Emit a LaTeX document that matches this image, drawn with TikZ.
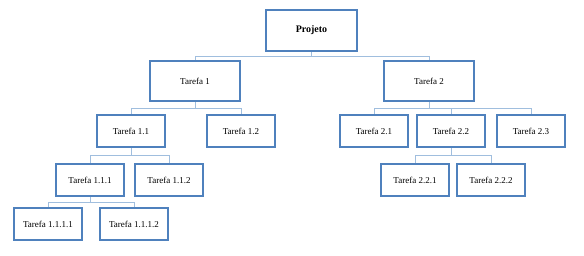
\documentclass[tikz,border=0pt]{standalone}
\usepackage{fontspec}
\setmainfont{Liberation Serif}
\usetikzlibrary{calc,backgrounds}
\definecolor{boxblue}{RGB}{79,129,189}
\definecolor{linkblue}{RGB}{160,190,222}
\begin{document}
\begin{tikzpicture}[x=1pt,y=-1pt,
  task/.style={draw=boxblue,line width=2pt,fill=white,minimum width=68pt,minimum height=32pt,inner sep=0pt,font=\fontsize{9}{10}\selectfont},
  bigtask/.style={task,minimum width=90pt,minimum height=40pt},
  conn/.style={draw=linkblue,line width=1pt}]
\useasboundingbox (0,0) rectangle (584,255);
\node[bigtask,minimum width=91pt,minimum height=41pt,font=\fontsize{10}{11}\selectfont\bfseries] (p) at (311.5,30.5) {Projeto};
\node[bigtask] (t1) at (195,81) {Tarefa 1};
\node[bigtask] (t2) at (429,81) {Tarefa 2};
\node[task] (t11) at (131,131) {Tarefa 1.1};
\node[task] (t12) at (241,131) {Tarefa 1.2};
\node[task] (t21) at (374,131) {Tarefa 2.1};
\node[task] (t22) at (451,131) {Tarefa 2.2};
\node[task] (t23) at (531,131) {Tarefa 2.3};
\node[task] (t111) at (90,180) {Tarefa 1.1.1};
\node[task] (t112) at (169,180) {Tarefa 1.1.2};
\node[task] (t221) at (415,180) {Tarefa 2.2.1};
\node[task] (t222) at (491,180) {Tarefa 2.2.2};
\node[task] (t1111) at (48,224) {Tarefa 1.1.1.1};
\node[task] (t1112) at (134,224) {Tarefa 1.1.1.2};
\begin{pgfonlayer}{background}
\foreach \pa/\ch in {p/t1,p/t2,t1/t11,t1/t12,t2/t21,t2/t22,t2/t23,t11/t111,t11/t112,t22/t221,t22/t222,t111/t1111,t111/t1112}{
  \draw[conn] (\ch.north) -- (\ch.north |- {$(\pa.south)!0.5!(\ch.north)$}) -| (\pa.south);
}
\end{pgfonlayer}
\end{tikzpicture}
\end{document}
